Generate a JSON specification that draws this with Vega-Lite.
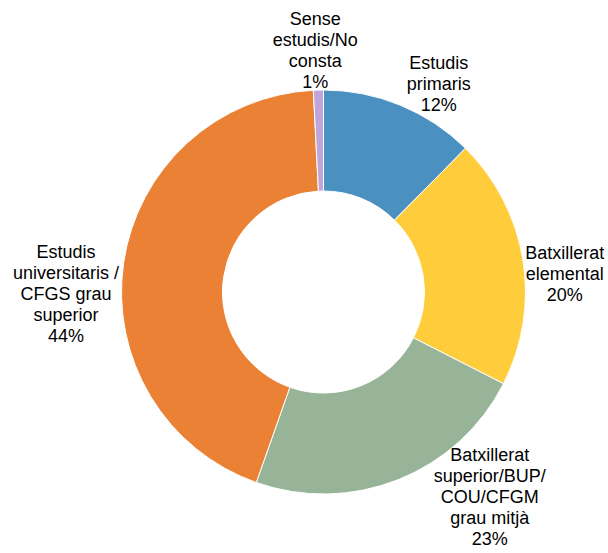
{
  "$schema": "https://vega.github.io/schema/vega-lite/v6.json",
  "width": 569,
  "height": 522,
  "padding": {"left": 39, "top": 31, "right": 0, "bottom": 0},
  "autosize": {"type": "none"},
  "background": "white",
  "view": {"stroke": null},
  "data": {
    "values": [
      {"n": 1, "category": "Estudis primaris", "pct": 12.4, "label": "Estudis\nprimaris\n12%"},
      {"n": 2, "category": "Batxillerat elemental", "pct": 20.1, "label": "Batxillerat\nelemental\n20%"},
      {"n": 3, "category": "Batxillerat superior/BUP/COU/CFGM grau mitjà", "pct": 22.9, "label": "Batxillerat\nsuperior/BUP/\nCOU/CFGM\ngrau mitjà\n23%"},
      {"n": 4, "category": "Estudis universitaris / CFGS grau superior", "pct": 43.8, "label": "Estudis\nuniversitaris /\nCFGS grau\nsuperior\n44%"},
      {"n": 5, "category": "Sense estudis/No consta", "pct": 0.8, "label": "Sense\nestudis/No\nconsta\n1%"}
    ]
  },
  "encoding": {
    "theta": {"field": "pct", "type": "quantitative", "stack": true},
    "order": {"field": "n", "type": "quantitative"}
  },
  "layer": [
    {
      "mark": {"type": "arc", "outerRadius": 202, "innerRadius": 101, "stroke": "white", "strokeWidth": 1},
      "encoding": {
        "color": {
          "field": "category",
          "type": "nominal",
          "sort": null,
          "scale": {
            "domain": ["Estudis primaris", "Batxillerat elemental", "Batxillerat superior/BUP/COU/CFGM grau mitjà", "Estudis universitaris / CFGS grau superior", "Sense estudis/No consta"],
            "range": ["#4A91C2", "#FFCD3B", "#97B398", "#EB8134", "#BFA5D9"]
          },
          "legend": null
        }
      }
    },
    {
      "mark": {
        "type": "text",
        "radius": 200,
        "font": "Liberation Sans",
        "fontSize": 18,
        "lineHeight": 21,
        "lineBreak": "\n",
        "color": "#000000",
        "align": "center",
        "baseline": "middle",
        "dy": {"expr": "min(-cos((datum.pct_start + datum.pct_end) * PI / 100) * length(split(datum.label, '\\n')) * 10.5 + 20 * abs(sin((datum.pct_start + datum.pct_end) * PI / 100)) + 20 * max(0, -sin((datum.pct_start + datum.pct_end) * PI / 100)), height - 3 - length(split(datum.label, '\\n')) * 10.5 - height / 2 + 200 * cos((datum.pct_start + datum.pct_end) * PI / 100)) - (length(split(datum.label, '\\n')) - 1) * 10.5"},
        "dx": {"expr": "sin((datum.pct_start + datum.pct_end) * PI / 100) * 4 * max(length(split(datum.label, '\\n')[0] || ''), length(split(datum.label, '\\n')[1] || ''), length(split(datum.label, '\\n')[2] || ''), length(split(datum.label, '\\n')[3] || ''), length(split(datum.label, '\\n')[4] || '')) + 90 * sin((datum.pct_start + datum.pct_end) * PI / 100) * pow(max(0, cos((datum.pct_start + datum.pct_end) * PI / 100)), 3) + (sin((datum.pct_start + datum.pct_end) * PI / 100) >= 0 ? 2 : -2) * max(0, (-cos((datum.pct_start + datum.pct_end) * PI / 100) * length(split(datum.label, '\\n')) * 10.5 + 20 * abs(sin((datum.pct_start + datum.pct_end) * PI / 100))) - (height - 3 - length(split(datum.label, '\\n')) * 10.5 - height / 2 + 200 * cos((datum.pct_start + datum.pct_end) * PI / 100)))"}
      },
      "encoding": {
        "text": {"field": "label", "type": "nominal"}
      }
    }
  ]
}
